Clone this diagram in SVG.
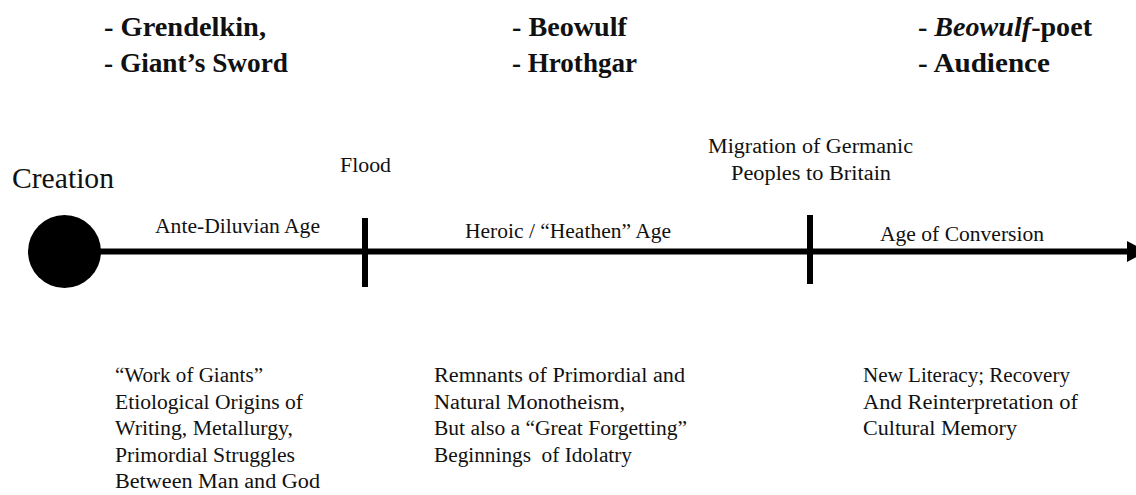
<svg xmlns="http://www.w3.org/2000/svg" width="1136" height="495" viewBox="0 0 1136 495">
<style>
  text { font-family: "Liberation Serif", "DejaVu Serif", serif; fill: #111; }
  .hd { font-weight: bold; font-size: 27px; }
  .lbl { font-size: 20px; }
  .big { font-size: 30px; }
  .body { font-size: 20px; }
  .axis { stroke: #000; stroke-width: 6; fill: none; }
</style>
<rect width="1136" height="495" fill="#fff"/>
<g id="header-left">
  <text class="hd" x="104" y="36" textLength="162" lengthAdjust="spacingAndGlyphs">- Grendelkin,</text>
  <text class="hd" x="104" y="72" textLength="184" lengthAdjust="spacingAndGlyphs">- Giant’s Sword</text>
</g>
<g id="header-mid">
  <text class="hd" x="512" y="36" textLength="115" lengthAdjust="spacingAndGlyphs">- Beowulf</text>
  <text class="hd" x="512" y="72" textLength="125" lengthAdjust="spacingAndGlyphs">- Hrothgar</text>
</g>
<g id="header-right">
  <text class="hd" x="918" y="36" textLength="174" lengthAdjust="spacingAndGlyphs">- <tspan font-style="italic">Beowulf</tspan>-poet</text>
  <text class="hd" x="918" y="72" textLength="132" lengthAdjust="spacingAndGlyphs">- Audience</text>
</g>
<g id="connectors">
  <line class="axis" x1="64" y1="251.5" x2="1130" y2="251.5"/>
  <polygon points="1127,241 1147,251.5 1127,262" fill="#000"/>
</g>
<g id="creation">
  <circle cx="64.5" cy="251.5" r="36.5" fill="#000"/>
  <text class="big" x="12" y="188" textLength="102" lengthAdjust="spacingAndGlyphs">Creation</text>
</g>
<g id="flood">
  <line class="axis" x1="365" y1="218" x2="365" y2="287"/>
  <text class="lbl" x="340" y="172" textLength="51" lengthAdjust="spacingAndGlyphs">Flood</text>
</g>
<g id="migration">
  <line class="axis" x1="810" y1="215" x2="810" y2="284"/>
  <text class="lbl" x="708" y="153" textLength="205" lengthAdjust="spacingAndGlyphs">Migration of Germanic</text>
  <text class="lbl" x="731" y="180" textLength="160" lengthAdjust="spacingAndGlyphs">Peoples to Britain</text>
</g>
<g id="age-antediluvian">
  <text class="lbl" x="155" y="233" textLength="165" lengthAdjust="spacingAndGlyphs">Ante-Diluvian Age</text>
  <text class="body" x="115" y="382" textLength="148" lengthAdjust="spacingAndGlyphs">“Work of Giants”</text>
  <text class="body" x="115" y="408.5" textLength="188" lengthAdjust="spacingAndGlyphs">Etiological Origins of</text>
  <text class="body" x="115" y="435" textLength="178" lengthAdjust="spacingAndGlyphs">Writing, Metallurgy,</text>
  <text class="body" x="115" y="461.5" textLength="180" lengthAdjust="spacingAndGlyphs">Primordial Struggles</text>
  <text class="body" x="115" y="488" textLength="205" lengthAdjust="spacingAndGlyphs">Between Man and God</text>
</g>
<g id="age-heroic">
  <text class="lbl" x="465" y="238" textLength="206" lengthAdjust="spacingAndGlyphs">Heroic / “Heathen” Age</text>
  <text class="body" x="434" y="382" textLength="251" lengthAdjust="spacingAndGlyphs">Remnants of Primordial and</text>
  <text class="body" x="434" y="408.5" textLength="191" lengthAdjust="spacingAndGlyphs">Natural Monotheism,</text>
  <text class="body" x="434" y="435" textLength="253" lengthAdjust="spacingAndGlyphs">But also a “Great Forgetting”</text>
  <text class="body" x="434" y="461.5" textLength="198" lengthAdjust="spacingAndGlyphs" xml:space="preserve">Beginnings  of Idolatry</text>
</g>
<g id="age-conversion">
  <text class="lbl" x="880" y="241" textLength="164" lengthAdjust="spacingAndGlyphs">Age of Conversion</text>
  <text class="body" x="863" y="382" textLength="207" lengthAdjust="spacingAndGlyphs">New Literacy; Recovery</text>
  <text class="body" x="863" y="408.5" textLength="215" lengthAdjust="spacingAndGlyphs">And Reinterpretation of</text>
  <text class="body" x="863" y="435" textLength="154" lengthAdjust="spacingAndGlyphs">Cultural Memory</text>
</g>
</svg>
